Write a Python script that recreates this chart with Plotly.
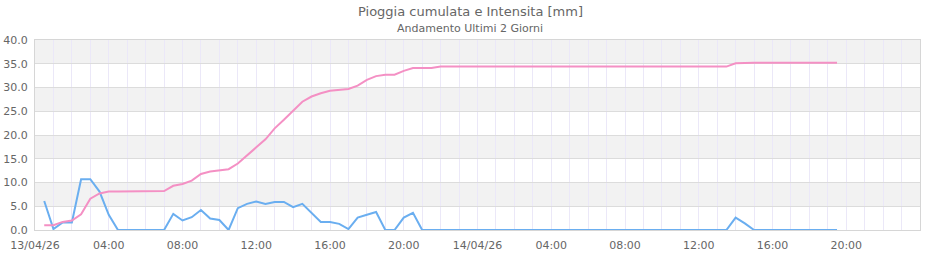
import plotly.graph_objects as go
import pandas as pd

# timestamps: every 30 minutes from 13/04/26 00:30 to 14/04/26 19:30
times = pd.date_range("2026-04-13 00:30", "2026-04-14 19:30", freq="30min")

intensita = [
    6.1, 0.2, 1.6, 1.6, 10.7, 10.7, 8.1, 3.2, 0.0, 0.0,
    0.0, 0.0, 0.0, 0.0, 3.4, 2.0, 2.7, 4.2, 2.4, 2.1,
    0.0, 4.6, 5.5, 6.0, 5.5, 5.9, 5.9, 4.8, 5.5, 3.6,
    1.7, 1.7, 1.3, 0.2, 2.6, 3.2, 3.8, 0.0, 0.0, 2.6,
    3.6, 0.0,
    0.0, 0.0, 0.0, 0.0, 0.0, 0.0, 0.0, 0.0, 0.0, 0.0,
    0.0, 0.0, 0.0, 0.0, 0.0, 0.0, 0.0, 0.0, 0.0, 0.0,
    0.0, 0.0, 0.0, 0.0, 0.0, 0.0, 0.0, 0.0, 0.0, 0.0,
    0.0, 0.0, 0.0,
    2.6, 1.4,
    0.0, 0.0, 0.0, 0.0, 0.0, 0.0, 0.0, 0.0, 0.0, 0.0,
]

cumulata = [
    1.0, 1.0, 1.7, 2.0, 3.3, 6.6, 7.7, 8.1, 8.1, 8.1,
    8.1, 8.2, 8.2, 8.2, 9.3, 9.7, 10.4, 11.8, 12.3, 12.5,
    12.8, 14.0, 15.6, 17.4, 19.1, 21.4, 23.2, 25.1, 27.0, 28.1,
    28.8, 29.3, 29.5, 29.7, 30.4, 31.6, 32.4, 32.7, 32.7, 33.5,
    34.1, 34.1, 34.1,
    34.4, 34.4, 34.4, 34.4, 34.4, 34.4, 34.4, 34.4, 34.4, 34.4,
    34.4, 34.4, 34.4, 34.4, 34.4, 34.4, 34.4, 34.4, 34.4, 34.4,
    34.4, 34.4, 34.4, 34.4, 34.4, 34.4, 34.4, 34.4, 34.4, 34.4,
    34.4, 34.4,
    35.1,
    35.2, 35.2, 35.2, 35.2, 35.2, 35.2, 35.2, 35.2, 35.2, 35.2, 35.2,
]

tick_vals = pd.date_range("2026-04-13 00:00", "2026-04-14 20:00", freq="4h")
tick_text = ["13/04/26", "04:00", "08:00", "12:00", "16:00", "20:00",
             "14/04/26", "04:00", "08:00", "12:00", "16:00", "20:00"]
band_starts = [5, 15, 25, 35]

FONT = "DejaVu Sans"
fig = go.Figure()
fig.add_trace(go.Scatter(x=times, y=intensita, mode="lines",
                         line=dict(color="#6aaef0", width=2), name="Intensita"))
fig.add_trace(go.Scatter(x=times, y=cumulata, mode="lines",
                         line=dict(color="#f490c4", width=2),
                         name="Cumulata"))

for b in band_starts:
    fig.add_shape(type="rect", xref="paper", yref="y", x0=0, x1=1, y0=b, y1=b + 5,
                  fillcolor="#f2f2f2", line=dict(width=0), layer="below")

fig.update_layout(
    width=940, height=260,
    margin=dict(l=35, r=20, t=40, b=30),
    paper_bgcolor="white", plot_bgcolor="white",
    showlegend=False,
    font=dict(family=FONT, color="#666666", size=11),
    xaxis=dict(type="date", range=["2026-04-13 00:00", "2026-04-15 00:00"],
               tickvals=tick_vals, ticktext=tick_text, ticks="", automargin=False,
               showgrid=True, gridcolor="#ebe8f8", gridwidth=1,
               minor=dict(dtick=3600000, showgrid=True, gridcolor="#ebe8f8", gridwidth=1),
               showline=True, linecolor="#d6d6d6", mirror=True, zeroline=False,
               ticklabelstandoff=5,
               tickfont=dict(size=11, color="#666666")),
    yaxis=dict(range=[0, 40], dtick=5, tickformat=".1f", ticks="", automargin=False,
               showgrid=True, gridcolor="#dcdcdc", gridwidth=1,
               showline=True, linecolor="#d6d6d6", mirror=True, zeroline=False,
               ticklabelstandoff=4,
               tickfont=dict(size=11, color="#666666")),
)

fig.add_annotation(text="Pioggia cumulata e Intensita [mm]", xref="paper", yref="paper",
                   x=(470 - 35) / 885, y=(230 - 12) / 190, xanchor="center", yanchor="middle",
                   showarrow=False, font=dict(family=FONT, size=13, color="#666666"))
fig.add_annotation(text="Andamento Ultimi 2 Giorni", xref="paper", yref="paper",
                   x=(470 - 35) / 885, y=(230 - 28) / 190, xanchor="center", yanchor="middle",
                   showarrow=False, font=dict(family=FONT, size=11, color="#666666"))

fig.write_html("out.html")
